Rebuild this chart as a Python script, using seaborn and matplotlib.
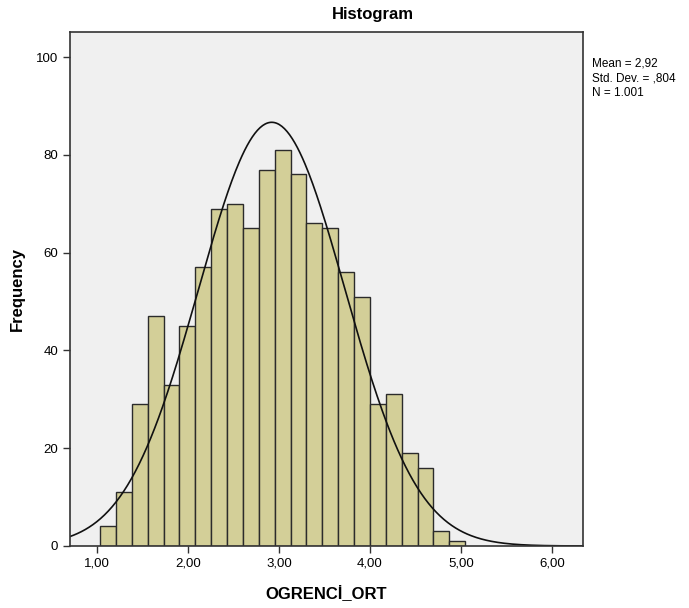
import numpy as np
import pandas as pd
import seaborn as sns
import matplotlib.pyplot as plt

# Bin counts (23 bins)
bin_start = 1.033
bin_width = 0.1745
counts = [4, 11, 29, 47, 33, 45, 57, 69, 70, 65, 77, 81,
          76, 66, 65, 56, 51, 29, 31, 19, 16, 3, 1]

# Summary stats shown in the box
mean_val = 2.92
sd_val = 0.804
n_val = 1001

x_ticks = [1, 2, 3, 4, 5, 6]
x_ticklabels = ["1,00", "2,00", "3,00", "4,00", "5,00", "6,00"]
y_ticks = [0, 20, 40, 60, 80, 100]

n_bins = len(counts)
centers = bin_start + bin_width * (np.arange(n_bins) + 0.5)
df = pd.DataFrame({"ort": centers, "freq": counts})

sns.set_style("ticks")
plt.rcParams['font.family'] = ['Liberation Sans', 'DejaVu Sans']
plt.rcParams['text.color'] = 'black'
plt.rcParams['axes.labelcolor'] = 'black'
plt.rcParams['xtick.labelcolor'] = 'black'
plt.rcParams['ytick.labelcolor'] = 'black'

fig = plt.figure(figsize=(6.89, 6.08), dpi=100)
ax = fig.add_axes([0.1016, 0.102, 0.7444, 0.845])
ax.set_facecolor("#F0F0F0")

sns.histplot(data=df, x="ort", weights="freq", bins=n_bins,
             binrange=(bin_start, bin_start + bin_width * n_bins), ax=ax,
             color="#D3CF98", alpha=1, edgecolor="#2b2b2b", linewidth=1.0)

# fitted normal curve
xs = np.linspace(0.70, 6.34, 400)
ys = n_val * bin_width * np.exp(-0.5 * ((xs - mean_val) / sd_val) ** 2) / (sd_val * np.sqrt(2 * np.pi))
sns.lineplot(x=xs, y=ys, ax=ax, color="#111111", linewidth=1.2)

ax.set_xlim(0.703, 6.34)
ax.set_ylim(0, 105.1)
ax.set_xticks(x_ticks)
ax.set_xticklabels(x_ticklabels)
ax.set_yticks(y_ticks)
ax.tick_params(axis="both", labelsize=9.5, length=5, width=1, color="#333333", direction="out")
for s in ax.spines.values():
    s.set_visible(True)
    s.set_color("#333333")
    s.set_linewidth(1.2)

ax.set_xlabel("OGRENCİ_ORT", fontsize=12, fontweight="bold", labelpad=11)
ax.set_ylabel("Frequency", fontsize=12, fontweight="bold", labelpad=8)

fig.text(373 / 689, 1 - 15 / 608, "Histogram", ha="center", va="center",
         fontsize=12, fontweight="bold")
fig.text(592 / 689, 1 - 57 / 608,
         "Mean = 2,92\nStd. Dev. = ,804\nN = 1.001",
         ha="left", va="top", fontsize=8.5, linespacing=1.35)

fig.savefig("out.png", dpi=100)
